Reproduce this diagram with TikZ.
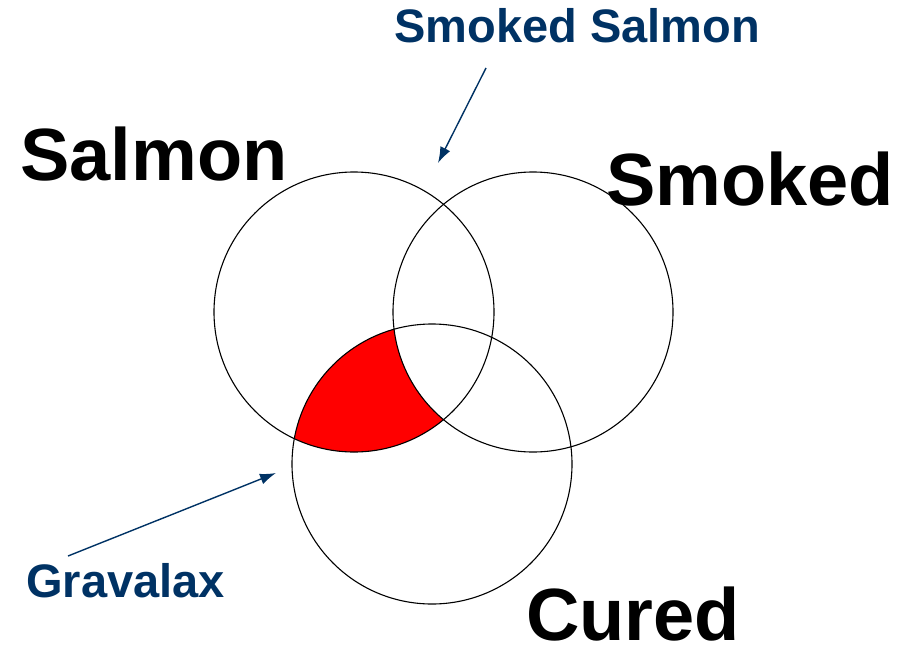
\documentclass[tikz,border=0pt]{standalone}
\usepackage{fontspec}
\setmainfont{Liberation Sans}
\usetikzlibrary{arrows.meta,positioning}

\definecolor{navy}{RGB}{0,50,100}

\begin{document}
\begin{tikzpicture}[
    x=1pt, y=-1pt,
    ring/.style={draw, circle, line width=1.1pt, minimum size=280pt, inner sep=0pt},
    setlabel/.style={anchor=base west, inner sep=0pt, text depth=0pt, font=\fontsize{74}{74}\selectfont\bfseries},
    callout/.style={anchor=base west, inner sep=0pt, text=navy, font=\fontsize{47}{47}\selectfont\bfseries},
    pointer/.style={draw=navy, line width=1.4pt, -{Latex[length=16pt,width=11pt]}}
]
    \useasboundingbox (0,0) rectangle (901,653);

    % centres of the three sets
    \coordinate (c salmon) at (354,312);
    \coordinate (c smoked) at (533,312);
    \coordinate (c cured) at (432,464);

    % salmon and cured, but not smoked
    \begin{scope}
        \clip (c salmon) circle[radius=140pt];
        \clip (c cured) circle[radius=140pt];
        \fill [red, even odd rule] (0,0) rectangle (901,653) (c smoked) circle[radius=140pt];
    \end{scope}

    \node [ring] (salmon) at (c salmon) {};
    \node [ring] (smoked) at (c smoked) {};
    \node [ring] (cured) at (c cured) {};

    \node [setlabel] (salmon label) at (20,180) {Salmon};
    \node [setlabel] (smoked label) at (606,205) {Smoked};
    \node [setlabel] (cured label) at (526,640) {Cured};

    \node [callout] (smoked salmon) at (394,42) {Smoked Salmon};
    \node [callout] (gravalax) at (26,597) {Gravalax};

    \coordinate (ss tail) at (486,68);
    \coordinate (ss tip) at (438,163);
    \coordinate (gx tail) at (68,556);
    \coordinate (gx tip) at (276,473);

    \path [pointer] (ss tail) -- (ss tip);
    \path [pointer] (gx tail) -- (gx tip);
\end{tikzpicture}
\end{document}
